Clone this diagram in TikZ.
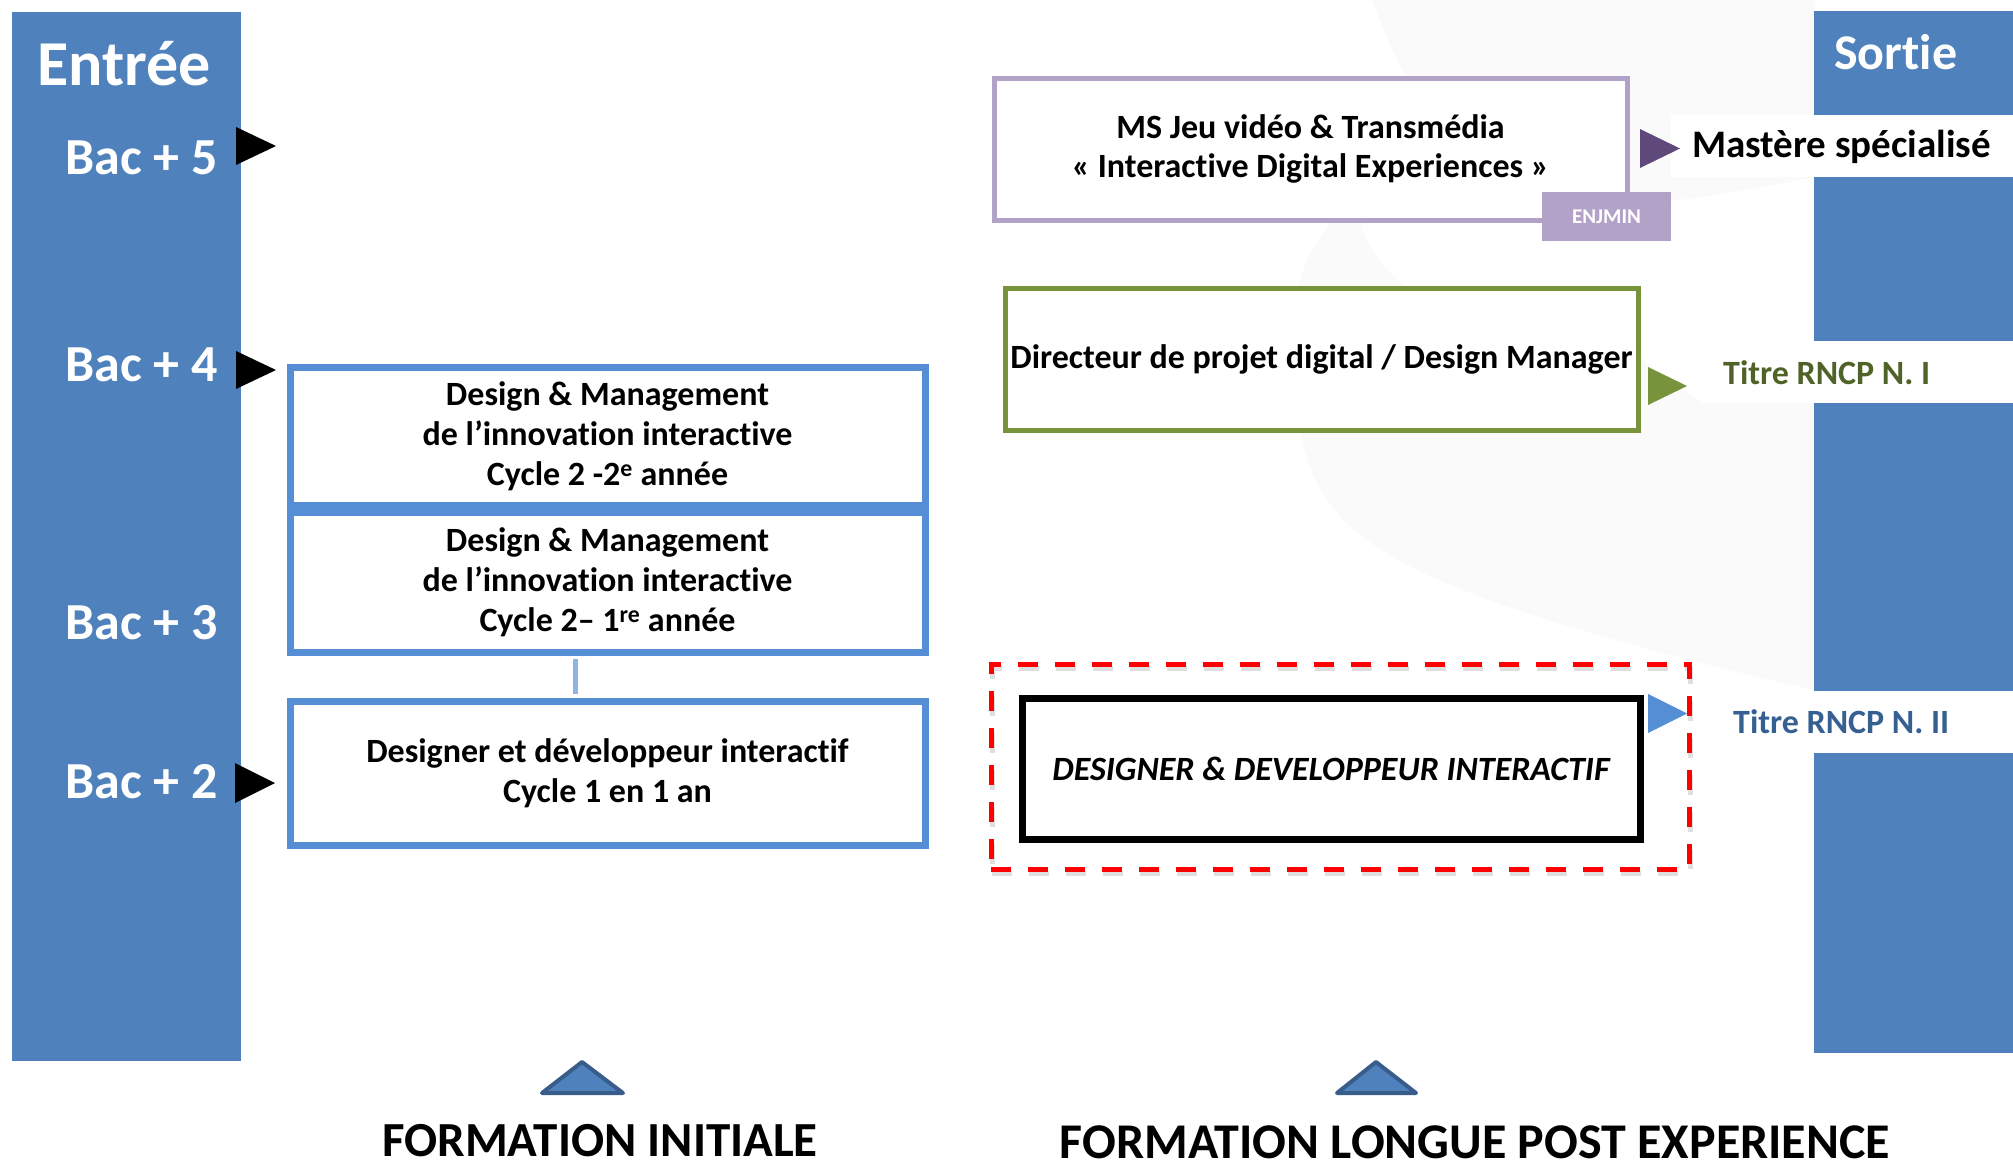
\documentclass[tikz,border=0pt]{standalone}
\usepackage{fontspec}
\setmainfont{Carlito}[Ligatures=NoCommon]
\definecolor{barblue}{HTML}{4F81BD}
\definecolor{boxblue}{HTML}{558ED5}
\definecolor{lineblue}{HTML}{8EB4E3}
\definecolor{lav}{HTML}{B3A2C7}
\definecolor{plum}{HTML}{5F497A}
\definecolor{olive}{HTML}{77933C}
\definecolor{olivetext}{HTML}{4F6228}
\definecolor{navytext}{HTML}{376092}
\definecolor{tribord}{HTML}{385D8A}
\definecolor{faint}{HTML}{FAFAFA}
\newcommand{\fsz}[1]{\fontsize{#1}{#1}\selectfont}
\begin{document}
\begin{tikzpicture}[x=1pt,y=-1pt,
  bar/.style={fill=barblue, draw=none, inner sep=0pt, anchor=north west},
  whitebg/.style={fill=white, draw=none, inner sep=0pt},
  bartext/.style={text=white, font=\bfseries\fsz{52}, inner sep=0pt},
  boxtext/.style={font=\bfseries\fontsize{34}{40}\selectfont, align=center, inner sep=0pt},
  bbox/.style={boxtext, draw=boxblue, line width=7pt, fill=white, minimum width=635pt},
  bottri/.style={fill=barblue, draw=tribord, line width=4pt, line join=round},
  bottitle/.style={font=\bfseries\fsz{50}, inner sep=0pt, anchor=base}
]
\useasboundingbox (0,0) rectangle (2013,1167);
\fill[white] (0,0) rectangle (2013,1167);

% faint background swoosh
\fill[faint] (1372,0) .. controls (1395,60) and (1430,150) .. (1530,195)
  .. controls (1600,215) and (1700,200) .. (1814,177) -- (1814,0) -- cycle;
\fill[faint] (1332,222) .. controls (1310,250) and (1300,270) .. (1296,300)
  .. controls (1290,420) and (1300,480) .. (1352,528)
  .. controls (1420,590) and (1600,640) .. (1814,690)
  -- (1814,403) -- (1702,403) -- (1640,358) -- (1640,290) -- (1409,290)
  .. controls (1385,270) and (1365,245) .. (1360,222) -- cycle;

% side bars
\node[bar, minimum width=229pt, minimum height=1049pt] (entbar) at (12,12) {};
\node[bar, minimum width=199pt, minimum height=1042pt] (sorbar) at (1814,11) {};
\node[whitebg, minimum width=342pt, minimum height=62pt] (msbg) at (1842,146) {};
\node[whitebg, minimum width=311pt, minimum height=62pt] (t1bg) at (1857.5,372) {};
\node[whitebg, minimum width=313pt, minimum height=62pt] (t2bg) at (1856.5,722) {};

\node[bartext, font=\bfseries\fsz{64}, anchor=base] (entree) at (124,85) {Entrée};
\node[bartext, font=\bfseries\fsz{50}, anchor=base west] (sortie) at (1834,69) {Sortie};
\node[bartext, anchor=base east] (bac5) at (218,174) {Bac + 5};
\node[bartext, anchor=base east] (bac4) at (218,381) {Bac + 4};
\node[bartext, anchor=base east] (bac3) at (218,639) {Bac + 3};
\node[bartext, anchor=base east] (bac2) at (218,798) {Bac + 2};

% black entry markers
\fill[black] (236,127) -- (276,146) -- (236,165) -- cycle;
\fill[black] (236,351) -- (276,370) -- (236,389) -- cycle;
\fill[black] (235,763) -- (275,783) -- (235,803) -- cycle;

% formation initiale boxes
\node[bbox, minimum height=138pt] (b1) at (607.5,436)
  {Design \& Management\\de l’innovation interactive\\Cycle 2 -2\textsuperscript{e} année};
\node[bbox, minimum height=140pt] (b2) at (607.5,582)
  {Design \& Management\\de l’innovation interactive\\Cycle 2– 1\textsuperscript{re} année};
\node[bbox, minimum height=144pt] (b3) at (607.5,773)
  {Designer et développeur interactif\\Cycle 1 en 1 an};
\draw[lineblue, line width=5pt, shorten <=3.5pt, shorten >=3.5pt]
  ([xshift=-32pt]b2.south) -- ([xshift=-32pt]b3.north);

% MS box
\node[boxtext, draw=lav, line width=5pt, fill=white, minimum width=633pt, minimum height=142pt,
  font=\bfseries\fontsize{34}{39}\selectfont] (ms) at (1310.5,149)
  {MS Jeu vidéo \& Transmédia\\« Interactive Digital Experiences »};
\node[fill=lav, text=white, font=\bfseries\fsz{21}, minimum width=129pt, minimum height=49pt, inner sep=0pt]
  (enjmin) at (1606.5,216.5) {ENJMIN};
\fill[plum] (1640,129) -- (1680,148.5) -- (1640,168) -- cycle;
\node[font=\bfseries\fsz{39}, anchor=base west, inner sep=0pt] (mst) at (1692,157) {Mastère spécialisé};

% Directeur box
\node[boxtext, draw=olive, line width=5pt, fill=white, minimum width=633pt, minimum height=142pt]
  (dir) at (1321.5,359) {Directeur de projet digital / Design Manager};
\fill[olive] (1648,367) -- (1687,386) -- (1648,405) -- cycle;
\node[font=\bfseries\fsz{34}, text=olivetext, anchor=base west, inner sep=0pt] (t1) at (1723,384) {Titre RNCP N. I};

% Designer & developpeur box
\node[draw=gray!25, line width=5pt, dash pattern=on 20pt off 17pt, minimum width=698pt, minimum height=205pt, inner sep=0pt]
  (dashsh) at (1341,771) {};
\node[draw=red, line width=5pt, dash pattern=on 20pt off 17pt, minimum width=698pt, minimum height=205pt, inner sep=0pt]
  (dash) at (1340,766.5) {};
\node[boxtext, draw=black, line width=7pt, fill=white, minimum width=618pt, minimum height=141pt,
  font=\bfseries\itshape\fsz{34}] (dd) at (1331,768.5) {DESIGNER \& DEVELOPPEUR INTERACTIF};
\fill[boxblue] (1648,694) -- (1687,713.5) -- (1648,733) -- cycle;
\node[font=\bfseries\fsz{34}, text=navytext, anchor=base west, inner sep=0pt] (t2) at (1733,733) {Titre RNCP N. II};

% bottom markers and titles
\filldraw[bottri] (582,1062) -- (623,1093) -- (542,1093) -- cycle;
\filldraw[bottri] (1376,1062) -- (1416,1093) -- (1337,1093) -- cycle;
\node[bottitle, font=\bfseries\fsz{49}] (fi) at (600,1156) {FORMATION INITIALE};
\node[bottitle] (fl) at (1475,1158) {FORMATION LONGUE POST EXPERIENCE};
\end{tikzpicture}
\end{document}
